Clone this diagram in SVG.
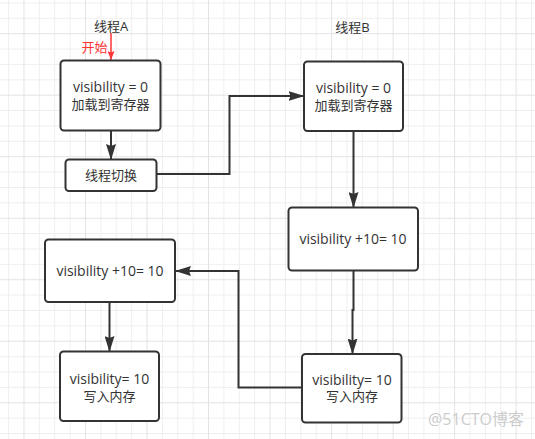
<svg xmlns="http://www.w3.org/2000/svg" width="535" height="439" viewBox="0 0 535 439">
<style>
  .grid { stroke: #efefef; stroke-width: 1; fill: none; }
  .gridm { stroke: #e3e3e3; stroke-width: 1; fill: none; }
  .box { fill: #ffffff; stroke: #333333; stroke-width: 2; }
  .t { font-family: "Open Sans", "Noto Sans CJK SC", sans-serif; fill: #333333; text-anchor: middle; }
  .lat { font-size: 14px; }
  .cjk { font-size: 13px; }
  .conn { fill: none; stroke: #333333; stroke-width: 2; }
  .red { fill: none; stroke: #ff3333; stroke-width: 1.5; }
</style>
<defs>
  <marker id="arr" viewBox="0 0 16 10" refX="15" refY="5" markerWidth="16" markerHeight="10" markerUnits="userSpaceOnUse" orient="auto">
    <path d="M0,0 L16,5 L0,10 L2,5 z" fill="#333333"/>
  </marker>
  <marker id="arrRed" viewBox="0 0 9 7" refX="9" refY="3.5" markerWidth="9" markerHeight="7" markerUnits="userSpaceOnUse" orient="auto">
    <path d="M0,0 L9,3.5 L0,7 L1.5,3.5 z" fill="#ff3333"/>
  </marker>
</defs>
<rect x="0" y="0" width="535" height="439" fill="#ffffff"/>
<g id="grid">
  <path class="grid" d="M8.6,0V439 M39.36,0V439 M54.74,0V439 M70.12,0V439 M100.88,0V439 M116.26,0V439 M131.64,0V439 M162.4,0V439 M177.78,0V439 M193.16,0V439 M223.92,0V439 M239.3,0V439 M254.68,0V439 M285.44,0V439 M300.82,0V439 M316.2,0V439 M346.96,0V439 M362.34,0V439 M377.72,0V439 M408.48,0V439 M423.86,0V439 M439.24,0V439 M470,0V439 M485.38,0V439 M500.76,0V439 M531.52,0V439
  M0,2.9H535 M0,18.28H535 M0,49.04H535 M0,64.42H535 M0,79.8H535 M0,110.56H535 M0,125.94H535 M0,141.32H535 M0,172.08H535 M0,187.46H535 M0,202.84H535 M0,233.6H535 M0,248.98H535 M0,264.36H535 M0,295.12H535 M0,310.5H535 M0,325.88H535 M0,356.64H535 M0,372.02H535 M0,387.4H535 M0,418.16H535 M0,433.54H535"/>
  <path class="gridm" d="M23.98,0V439 M85.5,0V439 M147.02,0V439 M208.54,0V439 M270.06,0V439 M331.58,0V439 M393.1,0V439 M454.62,0V439 M516.14,0V439
  M0,33.66H535 M0,95.18H535 M0,156.7H535 M0,218.22H535 M0,279.74H535 M0,341.26H535 M0,402.78H535"/>
</g>
<g id="connectors">
  <path class="red" d="M111,33 V60" marker-end="url(#arrRed)"/>
  <path class="conn" d="M111,131 V159" marker-end="url(#arr)"/>
  <path class="conn" d="M156.5,174 H229.5 V96 H303.5" marker-end="url(#arr)"/>
  <path class="conn" d="M353.5,132 V207" marker-end="url(#arr)"/>
  <path class="conn" d="M353.5,271 V310 H352.5 V353.5" marker-end="url(#arr)"/>
  <path class="conn" d="M301.5,387.5 H238.5 V271 H176" marker-end="url(#arr)"/>
  <path class="conn" d="M109.5,302.5 V351" marker-end="url(#arr)"/>
</g>
<g id="labelA"><text class="t cjk" x="111" y="31">线程A</text></g>
<g id="labelB"><text class="t cjk" x="352.5" y="32">线程B</text></g>
<g id="start"><text class="t cjk" x="94.5" y="52" style="fill:#ff3333">开始</text></g>
<g id="nodeA1">
  <rect class="box" x="60.5" y="60.5" width="100" height="70" rx="3.5"/>
  <text class="t lat" x="110.5" y="92">visibility = 0</text>
  <text class="t cjk" x="110.5" y="109">加载到寄存器</text>
</g>
<g id="nodeSwitch">
  <rect class="box" x="65.5" y="159.5" width="91" height="31.5" rx="3.5"/>
  <text class="t cjk" x="111" y="179.5">线程切换</text>
</g>
<g id="nodeB1">
  <rect class="box" x="304" y="61.5" width="99" height="69.5" rx="3.5"/>
  <text class="t lat" x="353.5" y="92.5">visibility = 0</text>
  <text class="t cjk" x="353.5" y="109.5">加载到寄存器</text>
</g>
<g id="nodeB2">
  <rect class="box" x="288.5" y="207.5" width="129.5" height="63" rx="3.5"/>
  <text class="t lat" x="353" y="244">visibility +10= 10</text>
</g>
<g id="nodeA2">
  <rect class="box" x="45" y="239.5" width="130" height="62.5" rx="3.5"/>
  <text class="t lat" x="110" y="276">visibility +10= 10</text>
</g>
<g id="nodeB3">
  <rect class="box" x="302" y="354" width="99.5" height="68.5" rx="3.5"/>
  <text class="t lat" x="352" y="384.5">visibility= 10</text>
  <text class="t cjk" x="352" y="401">写入内存</text>
</g>
<g id="nodeA3">
  <rect class="box" x="60" y="351.5" width="99" height="69.5" rx="3.5"/>
  <text class="t lat" x="109.5" y="383.5">visibility= 10</text>
  <text class="t cjk" x="109.5" y="400.5">写入内存</text>
</g>
<g id="watermark"><text x="476" y="425" style="font-family:'Open Sans','Noto Sans CJK SC',sans-serif;font-size:16px;fill:#cccccc;text-anchor:middle">@51CTO博客</text></g>
</svg>
